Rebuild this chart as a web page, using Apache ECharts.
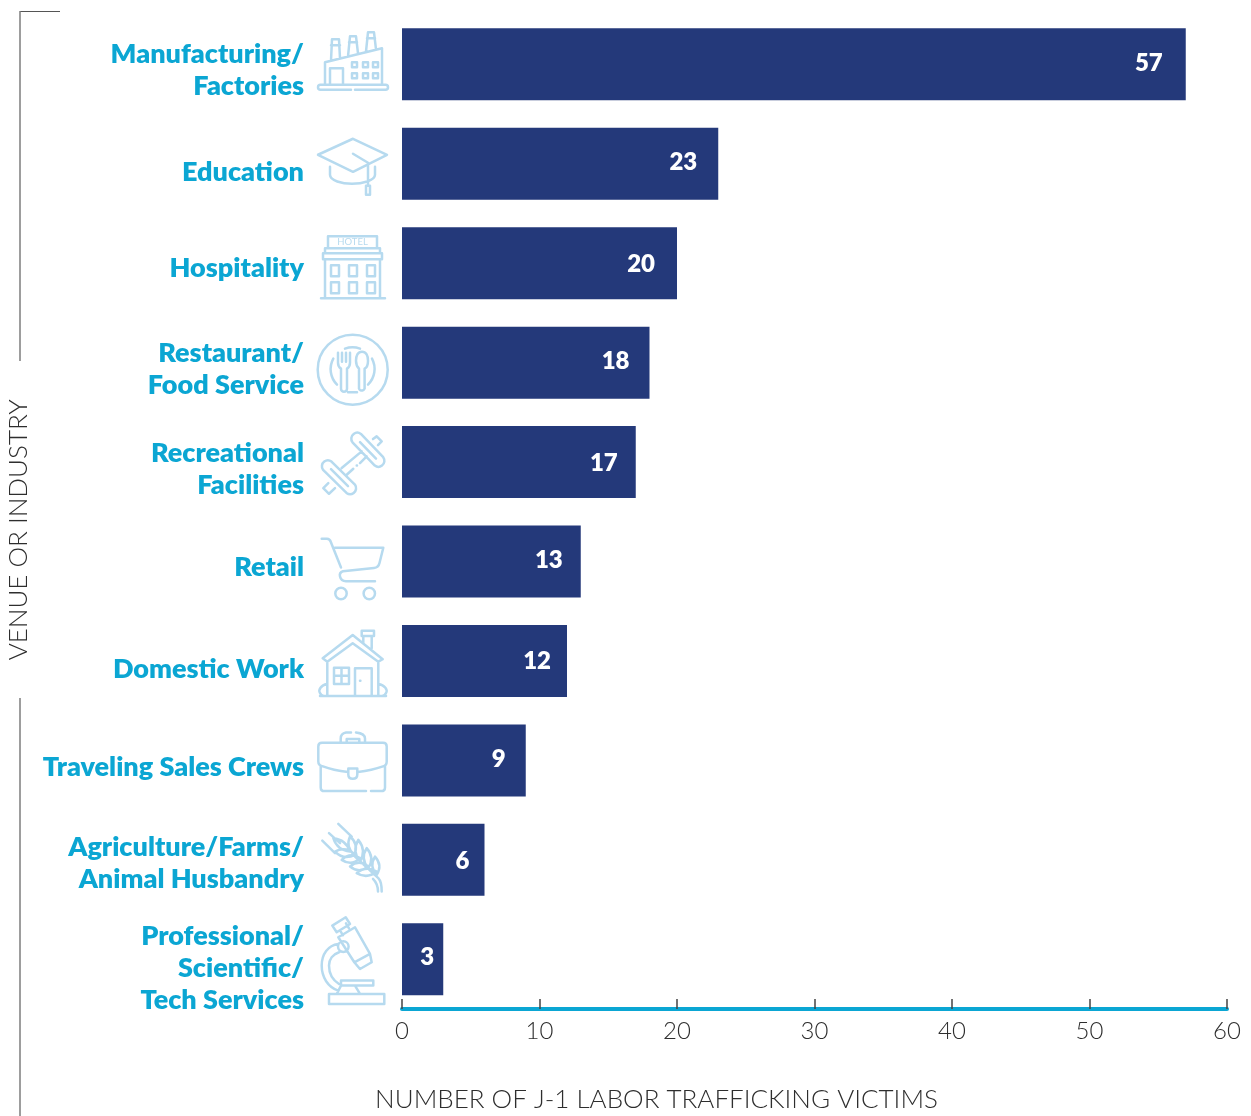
<!DOCTYPE html>
<html>
<head>
<meta charset="utf-8">
<style>html,body{margin:0;padding:0;background:#fff}#chart{width:1251px;height:1116px}</style>
<script src="https://cdn.jsdelivr.net/npm/echarts@6/dist/echarts.min.js"></script>
</head>
<body>
<div id="chart"></div>
<script>
// Victims by venue or industry, largest first
const categories = [
  'Manufacturing/\nFactories', 'Education', 'Hospitality', 'Restaurant/\nFood Service',
  'Recreational\nFacilities', 'Retail', 'Domestic Work', 'Traveling Sales Crews',
  'Agriculture/Farms/\nAnimal Husbandry', 'Professional/\nScientific/\nTech Services'
];
const victims = [57, 23, 20, 18, 17, 13, 12, 9, 6, 3];
const xTicks = [0, 60, 10];
const xAxisTitle = 'NUMBER OF J-1 LABOR TRAFFICKING VICTIMS';
const yAxisTitle = 'VENUE OR INDUSTRY';

// Hand placement of the text relative to its default anchor
const categoryDrop = [6, 9, 5, 7, 7, 6, 8, 7, 3, 9];
const valueInset = [23, 21, 22, 20, 18, 18, 16, 20, 15, 9];
const valueRise = [1, 1, -1, 1, -1, 1, 0, 1, -1, 2];

const NAVY = '#24397a', CYAN = '#0ba6d3', ICON = '#b6daef', INK = '#2e2e2e', RULE = '#7d7d7d';

function leaf(ax, ay, bx, by, w) {
  const mx = (ax + bx) / 2, my = (ay + by) / 2, dx = by - ay, dy = ax - bx;
  const l = Math.hypot(dx, dy), nx = dx / l * w, ny = dy / l * w;
  return `M${ax} ${ay}Q${mx + nx} ${my + ny} ${bx} ${by}Q${mx - nx} ${my - ny} ${ax} ${ay}Z`;
}
function ring(cx, cy, r) {
  return `M${cx - r} ${cy}a${r} ${r} 0 1 0 ${2 * r} 0a${r} ${r} 0 1 0 ${-2 * r} 0Z`;
}
function box(x, y, w, h) {
  return `M${x} ${y}h${w}v${h}h${-w}Z`;
}

// Line icons, one per category; local origin is 102px left of the axis at the band centre
const iconPaths = [
  // factory
  'M20 20.5H85.5a2.5 2.5 0 0 1 0 5H55M51 25.5H20.5a2.5 2.5 0 0 1 0-5M25 20.5V-2L82 -16V20.5' +
  'M31 -4L32 -25H39L40 -6M31 -19H40M48 -8L50 -28H56L58 -11M49 -22H57M66 -13L68 -32H74L76 -15M67 -26H75' +
  'M30 20.5V4H43V20.5' +
  box(52, -2, 5, 5) + box(63, -2, 5, 5) + box(73, -2, 5, 5) + box(52, 9, 5, 5) + box(63, 9, 5, 5) + box(73, 9, 5, 5),
  // mortarboard
  'M18 -9L53 -25L87 -9L53 8ZM30 3V11C30 17 42 20 52 20C62 20 75 17 75 11V3M53 -10L68 -1V21' + box(66, 22, 4, 9),
  // hotel
  box(28, -27, 49, 12) + box(25, -15, 55, 5) + box(23, -10, 59, 6) + 'M25 -4V35M80 -4V35M21 35H85' +
  box(31, 2, 8, 11) + box(49, 2, 8, 11) + box(67, 2, 8, 11) + box(31, 19, 8, 11) + box(49, 19, 8, 11) + box(67, 19, 8, 11),
  // plate, fork and spoon
  ring(52.7, 7, 35) + 'M33.3 -4A22 22 0 0 0 37 22M72 -4A22 22 0 0 1 68 22M45 -14A22 22 0 0 1 60 -14M48 29.5H57' +
  'M38 -10V0Q38 4 41 6V26a3 3 0 0 0 6 0V6Q50 4 50 0V-10M42 -10V-1M46 -10V-1' +
  'M62 -11c-4 0 -6 4 -6 9c0 4 2 7 3 8V26a3 3 0 0 0 5.6 0V6c2 -1 3.4 -4 3.4 -8c0 -5 -2 -9 -6 -9Z',
  // dumbbell
  'M60.9 -28.2L83.2 -4.9A6 6 0 0 1 74.8 3.5L52.5 -19.8A6 6 0 0 1 60.9 -28.2ZM60 -20L76 -3.5' +
  'M31.5 -.5L54.9 22.5A6 6 0 0 1 46.5 30.9L23.1 7.9A6 6 0 0 1 31.5 -.5ZM31 7L48 24' +
  'M41.7 6L61.7 -10.7M46.7 12.7L53.3 6.7M56.7 3.3h.3M60 1L66.7 -5.7' +
  'M73 -23L76.7 -25.7L81.7 -20.7L78 -17M28.3 21L23.3 26L29 31.7L35 26',
  // shopping cart
  'M21.7 -22.7H27Q30 -22.7 31 -19L41 6M35 -13.7H83.3L79.5 1.5Q78.5 6 74 6.5L43 9.7Q39 11 40 15Q41 19.7 46 19.7H75' +
  ring(41, 32, 5.7) + ring(69.3, 32, 5.7),
  // house
  'M27.3 .7L22.7 -2.7L52.7 -26L82.7 -1.7L78.3 .7L52.7 -17.7ZM27.3 .7V35M78.3 .7V35M20 35H86' +
  'M63.3 -17.7V-25M71.7 -25V-12.7' + box(61.7, -30.3, 12.3, 5.3) +
  box(34, 6.7, 15, 16.3) + 'M41.5 6.7V23M34 14.8H49' + box(55, 7.3, 16.7, 27.7) + 'M60 19.7h.4' +
  'M27 23C21 24 18 29 20 32Q21 35 24 35M78.3 23C85 24 88 29 86 32Q85 35 82 35',
  // briefcase
  'M18.3 -14Q18.3 -17.7 22 -17.7H83Q86.7 -17.7 86.7 -14V1Q86.7 5 83 6Q72 10 58 11.5M48 11.5Q33 10 23 6Q18.3 5 18.3 1V-14' +
  'M20.7 5V27Q20.7 30.7 24.5 30.7H66M71 30.7H81Q85 30.7 85 27V5' +
  'M48.3 8H57.3V14Q57.3 18.3 52.8 18.3Q48.3 18.3 48.3 14Z' +
  'M40.7 -17.7V-22Q40.7 -27 46 -28H51M56 -28Q65 -27 65 -22V-17.7M46.7 -17.7V-21.5H59.3V-17.7',
  // wheat ear
  'M81.7 31.7C81.7 26 81 21 78.3 18.3L55 -3.3M78 31.7C78 27 76 22 73 19' +
  'M22.3 -19.3L35 -6.7M29 -26.7L40 -16.7M38.3 -36L51.7 -23.3' +
  leaf(50, -23.3, 54.3, -5, 7) + leaf(58.3, -20, 60, 1.7, 7.5) + leaf(66.7, -11.7, 68.3, 8.3, 7.5) + leaf(75, -3.3, 76.7, 15, 7) +
  leaf(33.3, -21.7, 50, -8.3, 7) + leaf(35, -8.3, 55, -5, 7.5) + leaf(41.7, 0, 60, -1.7, 7.5) + leaf(50, 6.7, 68.3, 6.7, 7.5) +
  leaf(56.7, 13.3, 76.7, 11.7, 7),
  // microscope
  'M32.3 -33.7L45.7 -42L50 -35.3L36.7 -27ZM40 -29L43 -24M46 -36L49 -31' +
  'M38.3 -22L55 -32L70 -5.3L54.3 3ZM54.3 3L60 9.7L71.7 3L70 -5.3' +
  ring(43.3, -12.7, 5.3) +
  'M38.3 -15.3C28 -14 21.7 -5 21.7 6.3C21.7 18 28 28 38.3 31.3M39 -7C33 -5 29 0 29 6.3C29 14 33 21 39 24.7' +
  box(41, 21.3, 32.3, 5) + 'M41 26.3L36.7 34.7M55 26.3L60 34.7' + box(29, 34.7, 55.3, 10)
];
iconPaths.forEach((d, i) => {
  echarts.graphic.registerShape('venueIcon' + i, echarts.graphic.extendPath(d, {}));
});

const chart = echarts.init(document.getElementById('chart'), null, { renderer: 'canvas' });
const FACE = '"Lato", "Noto Sans", sans-serif';

// A blank line of twice the drop above a centred block moves it down by the drop
const spacerStyles = {};
categoryDrop.forEach(d => {
  spacerStyles['s' + d] = { height: 2 * d, lineHeight: 2 * d, fontSize: 1 };
});

chart.setOption({
  animation: false,
  backgroundColor: '#ffffff',
  textStyle: { fontFamily: FACE },
  grid: { left: 402, right: 24, top: 14.6, bottom: 107, containLabel: false, outerBoundsMode: 'none' },
  xAxis: {
    type: 'value',
    min: xTicks[0],
    max: xTicks[1],
    interval: xTicks[2],
    splitLine: { show: false },
    axisLine: { show: true, lineStyle: { color: CYAN, width: 4 } },
    axisTick: { show: true, inside: true, length: 10, lineStyle: { color: '#444', width: 1.5 } },
    axisLabel: { color: INK, fontSize: 24, fontWeight: 300, margin: 10, fontFamily: FACE },
    name: xAxisTitle,
    nameLocation: 'middle',
    nameGap: 78,
    nameTextStyle: { color: INK, fontSize: 26, fontWeight: 300, fontFamily: FACE, padding: [0, 316, 0, 0] }
  },
  yAxis: {
    type: 'category',
    inverse: true,
    data: categories,
    axisLine: { show: false },
    axisTick: { show: false },
    axisLabel: {
      interval: 0,
      margin: 98,
      align: 'right',
      color: CYAN,
      fontSize: 27,
      fontWeight: 800,
      lineHeight: 32,
      fontFamily: FACE,
      rich: spacerStyles,
      formatter: (value, index) => `{s${categoryDrop[index]}| }\n${value}`
    },
    name: yAxisTitle,
    nameLocation: 'middle',
    nameRotate: 90,
    nameGap: 364,
    nameTextStyle: { color: INK, fontSize: 26, fontWeight: 300, fontFamily: FACE, padding: [0, 36, 0, 0] }
  },
  series: [
    {
      type: 'bar',
      barWidth: 72,
      itemStyle: { color: NAVY },
      silent: true,
      label: {
        show: true,
        position: 'insideRight',
        distance: 0,
        color: '#ffffff',
        fontSize: 24,
        fontWeight: 800,
        fontFamily: FACE
      },
      data: victims.map((value, i) => ({
        value,
        label: { offset: [-valueInset[i], -valueRise[i]] }
      }))
    },
    {
      type: 'custom',
      silent: true,
      clip: false,
      encode: { x: 0, y: 1 },
      data: categories.map((_, i) => [0, i]),
      renderItem(params, api) {
        const i = params.dataIndex;
        const p = api.coord([0, i]);
        const stroke = { stroke: ICON, fill: 'none', lineWidth: 2.5, lineCap: 'round', lineJoin: 'round' };
        const children = [{ type: 'venueIcon' + i, style: stroke }];
        if (i === 2) {
          children.push({
            type: 'text',
            style: {
              text: 'HOTEL', x: 52.5, y: -21, align: 'center', verticalAlign: 'middle',
              fill: ICON, fontSize: 9.5, fontFamily: FACE
            }
          });
        }
        return { type: 'group', x: p[0] - 102, y: p[1], children };
      }
    }
  ],
  // Bracket running beside the vertical axis title
  graphic: [
    { type: 'polyline', silent: true, shape: { points: [[60, 11.5], [20, 11.5]] },
      style: { stroke: '#555', lineWidth: 1, fill: 'none' } },
    { type: 'polyline', silent: true, shape: { points: [[20, 11], [20, 361]] },
      style: { stroke: RULE, lineWidth: 1.5, fill: 'none' } },
    { type: 'polyline', silent: true, shape: { points: [[20, 698], [20, 1116]] },
      style: { stroke: RULE, lineWidth: 1.5, fill: 'none' } }
  ]
});
</script>
</body>
</html>
